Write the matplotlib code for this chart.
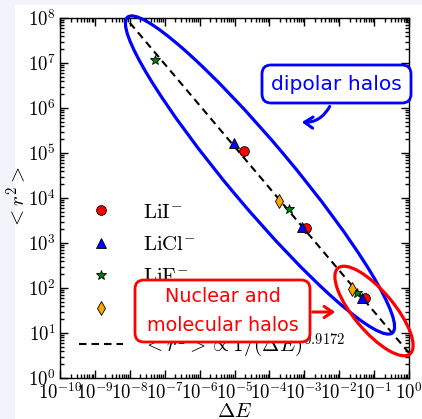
import numpy as np
import matplotlib
matplotlib.use("Agg")
import matplotlib.pyplot as plt
from matplotlib.patches import Ellipse, FancyBboxPatch, FancyArrowPatch, Rectangle
from matplotlib.transforms import IdentityTransform
from matplotlib.ticker import LogLocator, FuncFormatter, NullFormatter

plt.rcParams["mathtext.fontset"] = "cm"
plt.rcParams["font.family"] = "DejaVu Sans"

# ---- data: energy gap vs. mean square radius -------------------------------
lii_dE = [1.9e-5, 1.1e-3, 5.5e-2]
lii_r2 = [1.1e5, 2.15e3, 60]
licl_dE = [9.8e-6, 8.5e-4, 4.5e-2]
licl_r2 = [1.66e5, 2.3e3, 60]
lif_dE = [5.2e-8, 3.6e-4, 3.2e-2]
lif_r2 = [1.17e7, 5.7e3, 78]
libr_dE = [1.9e-4, 2.3e-2]
libr_r2 = [8.5e3, 95]

fit_coef = 3.6
fit_exp = 0.9172
fit_range = [1e-8, 1.0]

W, H, DPI = 422, 419, 100


def px(x, y):
    """Figure pixel (origin top-left) -> display coordinates."""
    return (x, H - y)


fig = plt.figure(figsize=(W / DPI, H / DPI), dpi=DPI)
fig.patch.set_facecolor("#f3f3fb")
fig.patches.append(Rectangle(px(15, 419), W - 15, 414, transform=IdentityTransform(),
                             facecolor="white", edgecolor="none", zorder=-10))

ax = fig.add_axes([60 / W, 41 / H, 349 / W, 360 / H])
ax.set_xscale("log")
ax.set_yscale("log")
ax.set_xlim(1e-10, 1)
ax.set_ylim(1, 1e8)
ax.set_facecolor("white")

ms = 7
ax.plot(lii_dE, lii_r2, "o", color="red", mec="black", mew=0.6, ms=ms,
        label=r"$\mathrm{LiI}^{-}$", zorder=5)
ax.plot(licl_dE, licl_r2, "^", color="blue", mec="black", mew=0.6, ms=ms,
        label=r"$\mathrm{LiCl}^{-}$", zorder=5)
ax.plot(lif_dE, lif_r2, "*", color="green", mec="black", mew=0.6, ms=ms,
        label=r"$\mathrm{LiF}^{-}$", zorder=5)
ax.plot(libr_dE, libr_r2, "d", color="orange", mec="black", mew=0.6, ms=ms,
        label=r"$\mathrm{LiBr}^{-}$", zorder=5)

fit_x = np.logspace(np.log10(fit_range[0]), np.log10(fit_range[1]), 200)
ax.plot(fit_x, fit_coef * fit_x ** (-fit_exp), color="black", lw=1.5,
        dashes=(3.6, 2.4), label=r"$<r^2>\propto 1/(\Delta E)^{0.9172}$", zorder=4)

# axes styling
ax.xaxis.set_major_locator(LogLocator(base=10, numticks=20))
ax.yaxis.set_major_locator(LogLocator(base=10, numticks=20))
ax.xaxis.set_minor_locator(LogLocator(base=10, subs=np.arange(2, 10), numticks=200))
ax.yaxis.set_minor_locator(LogLocator(base=10, subs=np.arange(2, 10), numticks=200))
fmt = FuncFormatter(lambda v, p: r"$10^{%d}$" % int(round(np.log10(v))))
ax.xaxis.set_major_formatter(fmt)
ax.yaxis.set_major_formatter(fmt)
ax.xaxis.set_minor_formatter(NullFormatter())
ax.yaxis.set_minor_formatter(NullFormatter())
ax.tick_params(which="both", direction="in", top=True, right=True, labelsize=13.5,
               width=1, colors="black")
ax.tick_params(which="major", length=6, pad=3)
ax.tick_params(which="minor", length=3)
for s in ax.spines.values():
    s.set_linewidth(1)

ax.set_xlabel(r"$\Delta E$", fontsize=15)
ax.set_ylabel(r"$<r^2>$", fontsize=15)
ax.xaxis.set_label_coords(0.5, -0.065)
ax.yaxis.set_label_coords(-0.09, 0.5)

leg = ax.legend(loc="upper left", bbox_to_anchor=(0.02, 0.525), frameon=False,
                fontsize=15, numpoints=1, handlelength=2.1, handletextpad=0.95,
                labelspacing=0.6, borderaxespad=0.2)
leg.set_zorder(3)

# highlighted regions
blue_ell = Ellipse(px(260, 175), 412, 63, angle=-50, transform=IdentityTransform(),
                   fill=False, edgecolor="blue", lw=2.3, zorder=6)
red_ell = Ellipse(px(374, 311), 112, 40, angle=-50, transform=IdentityTransform(),
                  fill=False, edgecolor="red", lw=2.3, zorder=6)
fig.patches.extend([blue_ell, red_ell])


# labelled boxes
def label_box(x0, y0, x1, y1, color, text, size, ls):
    box = FancyBboxPatch(px(x0, y1), x1 - x0, y1 - y0,
                         boxstyle="round,pad=0,rounding_size=9",
                         transform=IdentityTransform(), facecolor="white",
                         edgecolor=color, lw=2.0, zorder=8)
    fig.patches.append(box)
    cx, cy = px((x0 + x1) / 2, (y0 + y1) / 2)
    fig.text(cx / W, cy / H, text, color=color, fontsize=size, ha="center",
             va="center", linespacing=ls, zorder=9)


label_box(262, 65, 411, 103, "blue", "dipolar halos", 14.6, 1.2)
label_box(135, 280, 310, 342, "red", "Nuclear and\nmolecular halos", 13.8, 1.65)

fig.add_artist(FancyArrowPatch(
    px(331, 104), px(299, 122), transform=IdentityTransform(),
    connectionstyle="arc3,rad=-0.35", arrowstyle="->,head_length=6,head_width=4",
    color="blue", lw=2.2, zorder=9))
fig.add_artist(FancyArrowPatch(
    px(310, 312), px(338, 312), transform=IdentityTransform(),
    arrowstyle="->,head_length=6,head_width=4", color="red", lw=2.2, zorder=9))

fig.savefig("out.png", dpi=DPI, facecolor=fig.get_facecolor())
